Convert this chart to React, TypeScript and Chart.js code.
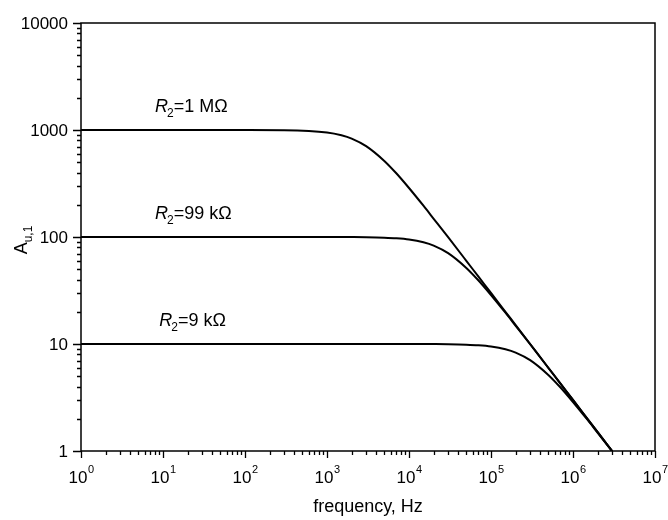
import React, { useEffect, useRef } from 'react';
import { Chart, registerables } from 'chart.js';

Chart.register(...registerables);

// frequency (Hz) sample points
const frequencies = [1, 10, 100, 300, 1000, 1500, 2000, 3000, 5000, 7000, 1e4, 1.5e4, 2e4, 3e4, 5e4, 7e4, 1e5, 1.5e5, 2e5, 3e5, 5e5, 7e5, 1e6, 1.5e6, 2e6, 3e6];

// voltage gain A_u,1 for each R2
const gainR2_1M = [1000, 1000, 999, 995, 949, 894, 832, 707, 514, 394, 287, 196, 148, 99.5, 59.9, 42.8, 30, 20, 15, 10, 6, 4.29, 3, 2, 1.5, 1];
const gainR2_99k = [100, 100, 100, 100, 99.9, 99.9, 99.8, 99.5, 98.6, 97.4, 94.9, 89.4, 83.2, 70.7, 51.4, 39.4, 28.7, 19.6, 14.8, 9.95, 5.99, 4.28, 3, 2, 1.5, 1];
const gainR2_9k = [10, 10, 10, 10, 10, 10, 10, 10, 10, 10, 9.99, 9.99, 9.98, 9.95, 9.86, 9.74, 9.49, 8.94, 8.32, 7.07, 5.14, 3.94, 2.87, 1.96, 1.48, 0.995];

const seriesGains = [gainR2_1M, gainR2_99k, gainR2_9k];
const seriesNames = ['R2=1 MΩ', 'R2=99 kΩ', 'R2=9 kΩ'];
const labelMain = ['R', 'R', 'R'];
const labelSub = ['2', '2', '2'];
const labelRest = ['=1 MΩ', '=99 kΩ', '=9 kΩ'];
const labelAnchorFreq = [8, 8, 9];
const labelAnchorGain = [1000, 100, 10];

const xTickExponents = [0, 1, 2, 3, 4, 5, 6, 7];
const yTickLabels = ['1', '10', '100', '1000', '10000'];
const yTickValues = [1, 10, 100, 1000, 10000];

const xTitle = 'frequency, Hz';
const yTitleMain = 'A';
const yTitleSub = 'u,1';

const FONT = '"Liberation Sans", Arial, sans-serif';

const framePlugin = {
  id: 'frame',
  afterDraw(chart: any) {
    const { ctx, chartArea, scales } = chart;
    const xs = scales.x;
    const ys = scales.y;
    const { left, right, top, bottom } = chartArea;
    ctx.save();
    ctx.strokeStyle = '#000';
    ctx.fillStyle = '#000';
    ctx.lineWidth = 1.5;
    ctx.strokeRect(left, top, right - left, bottom - top);

    // x ticks
    ctx.lineWidth = 1.3;
    ctx.beginPath();
    for (let n = 0; n <= 7; n++) {
      for (let m = 1; m <= 9; m++) {
        if (n === 7 && m > 1) break;
        const v = m * Math.pow(10, n);
        const px = Math.round(xs.getPixelForValue(v)) + 0.5;
        const len = m === 1 ? 7 : 4;
        ctx.moveTo(px, bottom);
        ctx.lineTo(px, bottom + len);
      }
    }
    // y ticks
    for (let n = 0; n <= 4; n++) {
      for (let m = 1; m <= 9; m++) {
        if (n === 4 && m > 1) break;
        const v = m * Math.pow(10, n);
        const py = Math.round(ys.getPixelForValue(v)) + 0.5;
        const len = m === 1 ? 8 : 4;
        ctx.moveTo(left, py);
        ctx.lineTo(left - len, py);
      }
    }
    ctx.stroke();

    // y tick labels
    ctx.font = `17px ${FONT}`;
    ctx.textAlign = 'right';
    ctx.textBaseline = 'middle';
    yTickValues.forEach((v, i) => {
      ctx.fillText(yTickLabels[i], left - 13, ys.getPixelForValue(v) + 1);
    });

    // x tick labels 10^n
    xTickExponents.forEach((e) => {
      const px = xs.getPixelForValue(Math.pow(10, e));
      ctx.font = `17px ${FONT}`;
      const wBase = ctx.measureText('10').width;
      ctx.font = `11px ${FONT}`;
      const wExp = ctx.measureText(String(e)).width;
      const start = px - (wBase + wExp) / 2;
      ctx.textAlign = 'left';
      ctx.textBaseline = 'alphabetic';
      ctx.font = `17px ${FONT}`;
      ctx.fillText('10', start, bottom + 32);
      ctx.font = `11px ${FONT}`;
      ctx.fillText(String(e), start + wBase + 0.5, bottom + 22);
    });

    // x title
    ctx.font = `18px ${FONT}`;
    ctx.textAlign = 'center';
    ctx.textBaseline = 'alphabetic';
    ctx.fillText(xTitle, (left + right) / 2, bottom + 61);

    // y title (rotated)
    ctx.save();
    ctx.translate(27, (top + bottom) / 2 + 3);
    ctx.rotate(-Math.PI / 2);
    ctx.font = `18px ${FONT}`;
    const wA = ctx.measureText(yTitleMain).width;
    ctx.font = `12px ${FONT}`;
    const wS = ctx.measureText(yTitleSub).width;
    const sx = -(wA + wS) / 2;
    ctx.textAlign = 'left';
    ctx.font = `18px ${FONT}`;
    ctx.fillText(yTitleMain, sx, 0);
    ctx.font = `12px ${FONT}`;
    ctx.fillText(yTitleSub, sx + wA, 5);
    ctx.restore();

    // curve labels
    seriesNames.forEach((_, i) => {
      const x0 = xs.getPixelForValue(labelAnchorFreq[i]);
      const y0 = ys.getPixelForValue(labelAnchorGain[i]) - 18;
      ctx.textAlign = 'left';
      ctx.textBaseline = 'alphabetic';
      ctx.font = `italic 18px ${FONT}`;
      ctx.fillText(labelMain[i], x0, y0);
      const w1 = ctx.measureText(labelMain[i]).width;
      ctx.font = `12px ${FONT}`;
      ctx.fillText(labelSub[i], x0 + w1 - 1, y0 + 5);
      const w2 = ctx.measureText(labelSub[i]).width;
      ctx.font = `18px ${FONT}`;
      ctx.fillText(labelRest[i], x0 + w1 - 1 + w2, y0);
    });

    ctx.restore();
  },
};

export default function App() {
  const canvasRef = useRef<HTMLCanvasElement | null>(null);

  useEffect(() => {
    if (!canvasRef.current) return;
    const chart = new Chart(canvasRef.current, {
      type: 'line',
      data: {
        datasets: seriesGains.map((g, i) => ({
          label: seriesNames[i],
          data: frequencies.map((f, j) => ({ x: f, y: g[j] })),
          borderColor: '#000',
          borderWidth: 2,
          pointRadius: 0,
          fill: false,
          cubicInterpolationMode: 'monotone' as const,
        })),
      },
      options: {
        animation: false,
        responsive: true,
        maintainAspectRatio: false,
        layout: { padding: { left: 81, right: 13, top: 23, bottom: 69 } },
        plugins: { legend: { display: false }, tooltip: { enabled: false } },
        scales: {
          x: { type: 'logarithmic', min: 1, max: 1e7, display: false },
          y: { type: 'logarithmic', min: 1, max: 10000, display: false },
        },
      },
      plugins: [framePlugin],
    });
    return () => chart.destroy();
  }, []);

  return (
    <div style={{ position: 'fixed', left: 0, top: 0, width: 668, height: 520, background: '#fff' }}>
      <canvas ref={canvasRef} />
    </div>
  );
}
